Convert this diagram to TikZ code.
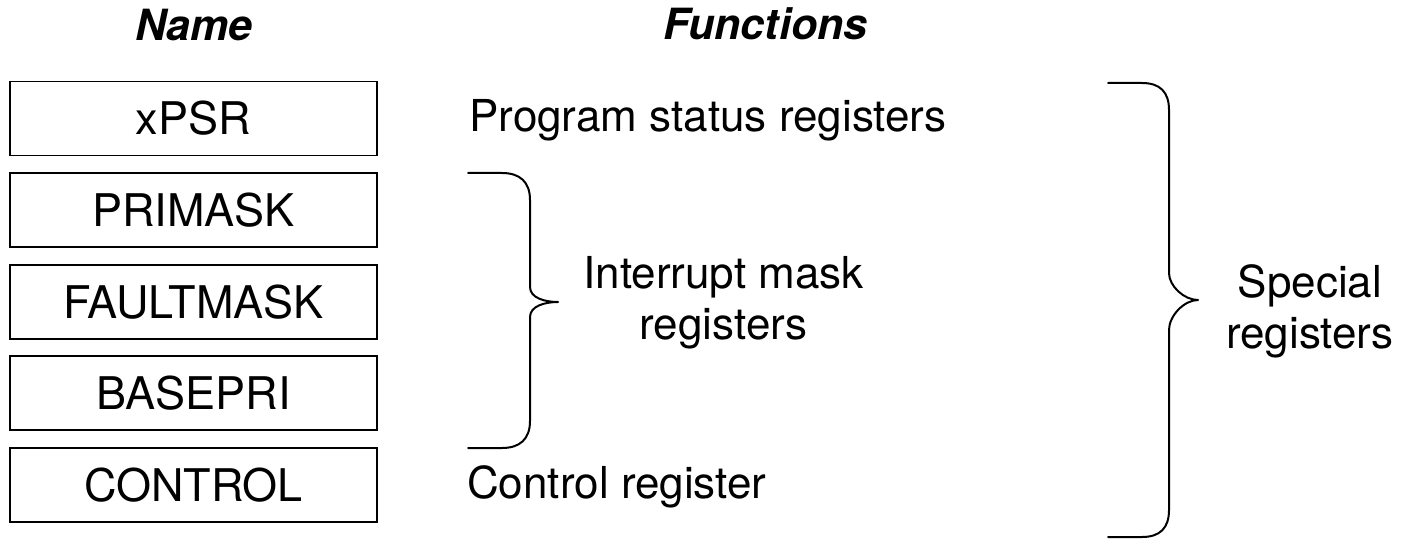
\documentclass[tikz,border=0pt]{standalone}
\usepackage{fontspec}
\setmainfont{TeX Gyre Heros}
\begin{document}
\begin{tikzpicture}[x=1pt,y=-1pt,
  reg/.style={draw, line width=1.8pt, minimum width=367pt, minimum height=74pt,
    inner sep=0pt, font=\fontsize{45}{51}\selectfont},
  label/.style={inner sep=0pt, anchor=base west, font=\fontsize{44}{51}\selectfont},
  group/.style={inner sep=0pt, align=center, anchor=base, font=\fontsize{44}{51}\selectfont},
  head/.style={inner sep=0pt, anchor=base, font=\fontsize{43}{49}\selectfont\bfseries\itshape},
  brace/.style={line width=2pt, line join=round, line cap=round}]
\useasboundingbox (0,0) rectangle (1402,540);

% column headings
\node[head] (hname) at (194,41) {Name};
\node[head] (hfunc) at (765.5,40) {Functions};

% register boxes
\node[reg] (xpsr)  at (193.5,118.5) {xPSR};
\node[reg] (prim)  at (193.5,210.1) {PRIMASK};
\node[reg] (fault) at (193.5,301.7) {FAULTMASK};
\node[reg] (base)  at (193.5,393.3) {BASEPRI};
\node[reg] (ctrl)  at (193.5,485)   {CONTROL};

% function descriptions (multi-line nodes sit on their last baseline)
\node[label] (fpsr)  at (469,132) {Program status registers};
\node[label] (fctrl) at (467,498) {Control register};
\node[group] (fmask) at (723.5,339) {Interrupt mask\\registers};
\node[group] (fspec) at (1310,348) {Special\\registers};

% brace grouping the mask registers
\draw[brace] (468,173) -- (502,173)
  .. controls (520,173) and (530,182) .. (530,200) -- (530,287)
  .. controls (530,298) and (545,302) .. (558,302)
  .. controls (545,302) and (530,306) .. (530,317) -- (530,421)
  .. controls (530,439) and (520,448) .. (502,448) -- (468,448);

% brace spanning all special registers
\draw[brace] (1108,83) -- (1142,83)
  .. controls (1160,83) and (1169,92) .. (1169,110) -- (1169,273)
  .. controls (1169,286) and (1184,300) .. (1198,300)
  .. controls (1184,300) and (1169,316) .. (1169,330) -- (1169,510)
  .. controls (1169,528) and (1160,537) .. (1142,537) -- (1108,537);
\end{tikzpicture}
\end{document}
